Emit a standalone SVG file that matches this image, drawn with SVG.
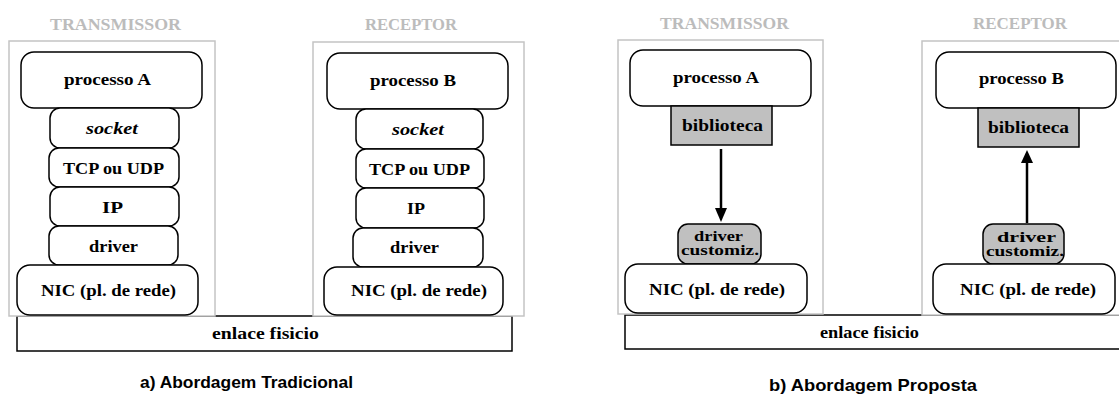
<svg xmlns="http://www.w3.org/2000/svg" width="1119" height="394" viewBox="0 0 1119 394">
  <defs>
    <style>
      .host { fill: #ffffff; stroke: #c4c4c4; stroke-width: 1.5; }
      .hdr { font-family: "Liberation Serif", "Times New Roman", serif; font-weight: bold; font-size: 17px; fill: #bcbcbc; }
      .box { fill: #ffffff; stroke: #000000; stroke-width: 1.5; }
      .gbox { fill: #c0c0c0; stroke: #000000; stroke-width: 1.5; }
      .link { fill: #ffffff; stroke: #000000; stroke-width: 1.5; }
      .lbl { font-family: "Liberation Serif", "Times New Roman", serif; font-weight: bold; font-size: 16.5px; fill: #000000; }
      .sm { font-size: 15px; }
      .it { font-style: italic; }
      .cap { font-family: "Liberation Sans", Arial, sans-serif; font-weight: bold; font-size: 17px; fill: #000000; }
      .wire { stroke: #000000; stroke-width: 2.5; fill: none; }
      .head { fill: #000000; }
    </style>
  </defs>

  <!-- ===== a) traditional approach ===== -->
  <g id="enlace-a">
    <rect class="link" x="17" y="316" width="495" height="35"/>
    <text class="lbl" x="212" y="339" textLength="107" lengthAdjust="spacingAndGlyphs">enlace fisicio</text>
  </g>

  <g id="transmissor-a">
    <rect class="host" x="9" y="41" width="206" height="275"/>
    <text class="hdr" x="50" y="30" textLength="131" lengthAdjust="spacingAndGlyphs">TRANSMISSOR</text>
  </g>
  <g id="receptor-a">
    <rect class="host" x="313" y="42" width="211" height="274"/>
    <text class="hdr" x="365" y="30" textLength="92" lengthAdjust="spacingAndGlyphs">RECEPTOR</text>
  </g>

  <g id="processoA-a">
    <rect class="box" x="21" y="52" width="181" height="56" rx="13"/>
    <text class="lbl" x="64" y="85" textLength="87" lengthAdjust="spacingAndGlyphs">processo A</text>
  </g>
  <g id="socket-tx">
    <rect class="box" x="50" y="108" width="129" height="40" rx="10"/>
    <text class="lbl it" x="86" y="134" textLength="52" lengthAdjust="spacingAndGlyphs">socket</text>
  </g>
  <g id="tcp-tx">
    <rect class="box" x="49" y="148" width="130" height="39" rx="10"/>
    <text class="lbl" x="63" y="174" textLength="101" lengthAdjust="spacingAndGlyphs">TCP ou UDP</text>
  </g>
  <g id="ip-tx">
    <rect class="box" x="50" y="187" width="129" height="39" rx="10"/>
    <text class="lbl" x="102" y="213" textLength="21" lengthAdjust="spacingAndGlyphs">IP</text>
  </g>
  <g id="driver-tx">
    <rect class="box" x="49" y="226" width="129" height="39" rx="10"/>
    <text class="lbl" x="89" y="252" textLength="49" lengthAdjust="spacingAndGlyphs">driver</text>
  </g>
  <g id="nic-tx-a">
    <rect class="box" x="17" y="265" width="181" height="50" rx="13"/>
    <text class="lbl" x="41" y="296" textLength="135" lengthAdjust="spacingAndGlyphs">NIC (pl. de rede)</text>
  </g>

  <g id="processoB-a">
    <rect class="box" x="327" y="53" width="181" height="56" rx="13"/>
    <text class="lbl" x="370" y="86" textLength="86" lengthAdjust="spacingAndGlyphs">processo B</text>
  </g>
  <g id="socket-rx">
    <rect class="box" x="356" y="109" width="127" height="40" rx="10"/>
    <text class="lbl it" x="392" y="135" textLength="52" lengthAdjust="spacingAndGlyphs">socket</text>
  </g>
  <g id="tcp-rx">
    <rect class="box" x="356" y="149" width="128" height="39" rx="10"/>
    <text class="lbl" x="369" y="175" textLength="101" lengthAdjust="spacingAndGlyphs">TCP ou UDP</text>
  </g>
  <g id="ip-rx">
    <rect class="box" x="356" y="188" width="128" height="40" rx="10"/>
    <text class="lbl" x="407" y="214" textLength="18" lengthAdjust="spacingAndGlyphs">IP</text>
  </g>
  <g id="driver-rx">
    <rect class="box" x="353" y="228" width="130" height="39" rx="10"/>
    <text class="lbl" x="390" y="253" textLength="49" lengthAdjust="spacingAndGlyphs">driver</text>
  </g>
  <g id="nic-rx-a">
    <rect class="box" x="324" y="267" width="179" height="48" rx="13"/>
    <text class="lbl" x="351" y="296" textLength="136" lengthAdjust="spacingAndGlyphs">NIC (pl. de rede)</text>
  </g>

  <text class="cap" x="140" y="388" textLength="213" lengthAdjust="spacingAndGlyphs">a) Abordagem Tradicional</text>

  <!-- ===== b) proposed approach ===== -->
  <g id="enlace-b">
    <rect class="link" x="625" y="315" width="500" height="34"/>
    <text class="lbl" x="820" y="338" textLength="99" lengthAdjust="spacingAndGlyphs">enlace fisicio</text>
  </g>

  <g id="transmissor-b">
    <rect class="host" x="618" y="40" width="205" height="274"/>
    <text class="hdr" x="660" y="29" textLength="129" lengthAdjust="spacingAndGlyphs">TRANSMISSOR</text>
  </g>
  <g id="receptor-b">
    <rect class="host" x="922" y="41" width="203" height="274"/>
    <text class="hdr" x="973" y="29" textLength="94" lengthAdjust="spacingAndGlyphs">RECEPTOR</text>
  </g>

  <g id="processoA-b">
    <rect class="box" x="630" y="50" width="181" height="56" rx="13"/>
    <text class="lbl" x="673" y="83" textLength="86" lengthAdjust="spacingAndGlyphs">processo A</text>
  </g>
  <g id="biblioteca-tx">
    <rect class="gbox" x="671" y="106" width="101" height="39"/>
    <text class="lbl" x="682" y="131" textLength="81" lengthAdjust="spacingAndGlyphs">biblioteca</text>
  </g>
  <g id="drvcust-tx">
    <rect class="gbox" x="678" y="224" width="83" height="40" rx="10"/>
    <text class="lbl sm" x="694" y="241" textLength="49" lengthAdjust="spacingAndGlyphs">driver</text>
    <text class="lbl sm" x="681" y="255" textLength="78" lengthAdjust="spacingAndGlyphs">customiz.</text>
  </g>
  <g id="nic-tx-b">
    <rect class="box" x="625" y="264" width="182" height="49" rx="13"/>
    <text class="lbl" x="649" y="295" textLength="136" lengthAdjust="spacingAndGlyphs">NIC (pl. de rede)</text>
  </g>

  <g id="processoB-b">
    <rect class="box" x="936" y="52" width="180" height="56" rx="13"/>
    <text class="lbl" x="979" y="84" textLength="85" lengthAdjust="spacingAndGlyphs">processo B</text>
  </g>
  <g id="biblioteca-rx">
    <rect class="gbox" x="978" y="108" width="101" height="39"/>
    <text class="lbl" x="988" y="133" textLength="81" lengthAdjust="spacingAndGlyphs">biblioteca</text>
  </g>
  <g id="drvcust-rx">
    <rect class="gbox" x="983" y="224" width="81" height="40" rx="10"/>
    <text class="lbl sm" x="997" y="242" textLength="59" lengthAdjust="spacingAndGlyphs">driver</text>
    <text class="lbl sm" x="986" y="256" textLength="78" lengthAdjust="spacingAndGlyphs">customiz.</text>
  </g>
  <g id="nic-rx-b">
    <rect class="box" x="933" y="264" width="182" height="50" rx="13"/>
    <text class="lbl" x="960" y="295" textLength="136" lengthAdjust="spacingAndGlyphs">NIC (pl. de rede)</text>
  </g>

  <!-- data path between library and custom driver -->
  <g id="connectors">
    <line class="wire" x1="721" y1="149" x2="721" y2="210"/>
    <polygon class="head" points="715,208 727,208 721,222"/>
    <line class="wire" x1="1027" y1="161" x2="1027" y2="223"/>
    <polygon class="head" points="1021,163 1033,163 1027,150"/>
  </g>

  <text class="cap" x="769" y="391" textLength="208" lengthAdjust="spacingAndGlyphs">b) Abordagem Proposta</text>
</svg>
